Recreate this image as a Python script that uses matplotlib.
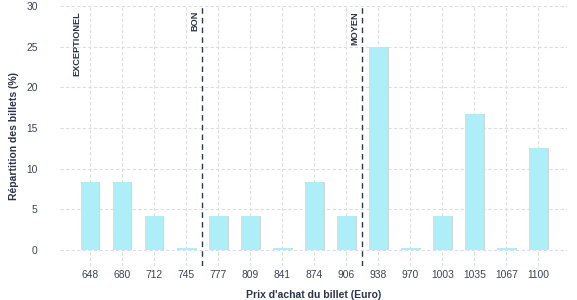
import matplotlib
matplotlib.use("Agg")
import matplotlib.pyplot as plt
import matplotlib.patheffects as pe
import numpy as np

categories = ["648", "680", "712", "745", "777", "809", "841", "874", "906",
              "938", "970", "1003", "1035", "1067", "1100"]
values = [8.33, 8.33, 4.17, 0.2, 4.17, 4.17, 0.2, 8.33, 4.17,
          25.0, 0.2, 4.17, 16.67, 0.2, 12.5]
zones = ["EXCEPTIONEL", "BON", "MOYEN"]
zone_lines = [None, 3.5, 8.5]
yticks = [0, 5, 10, 15, 20, 25, 30]

plt.rcParams['font.family'] = ['Liberation Sans', 'DejaVu Sans']
navy = '#2a344a'

fig = plt.figure(figsize=(5.77, 3.0), dpi=100)
ax = fig.add_axes([0.104, 0.113, 0.879, 0.867])

x = np.arange(len(categories))
ax.bar(x, values, width=0.56, color='#adeef8', zorder=3,
       path_effects=[pe.SimplePatchShadow(offset=(1.0, 0), shadow_rgbFace='#d8d8d8', alpha=1.0), pe.Normal()])

ax.set_xlim(-0.94, 14.9)
ax.set_ylim(-1.97, 30)
ax.set_xticks(x)
ax.set_xticklabels(categories)
ax.set_yticks(yticks)
ax.grid(True, color='#dedede', linestyle=(0, (3, 2)), linewidth=0.8, zorder=0)
for s in ax.spines.values():
    s.set_visible(False)
ax.tick_params(length=0, labelsize=7.4, colors='#3a4458', pad=3)
ax.tick_params(axis='y', pad=16)

for xl in zone_lines:
    if xl is not None:
        ax.axvline(xl, color='#2c3850', linestyle=(0, (4, 3)), linewidth=1.0, zorder=4)

label_x = [-0.42, 3.27, 8.27]
for name, lx in zip(zones, label_x):
    ax.text(lx, 29.4, name, rotation=90, ha='center', va='top', fontsize=6.6,
            fontweight='bold', color=navy, zorder=5)

ax.set_xlabel("Prix d'achat du billet (Euro)", fontsize=7.5, fontweight='bold', color=navy, labelpad=7)
ax.set_ylabel("Répartition des billets (%)", fontsize=7.5, fontweight='bold', color=navy, labelpad=5)

fig.savefig("out.png", dpi=100)
